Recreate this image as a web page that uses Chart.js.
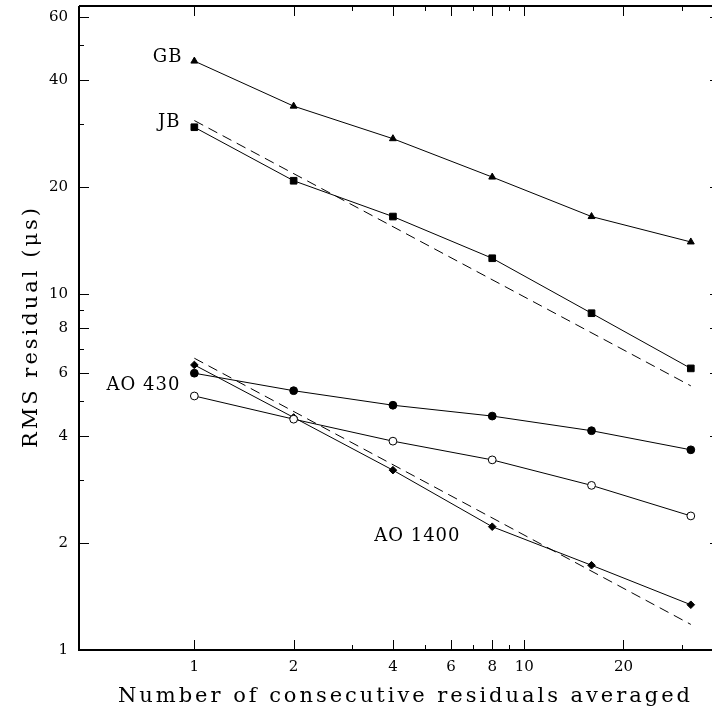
<!DOCTYPE html>
<html>
<head>
<meta charset="utf-8">
<script src="https://cdn.jsdelivr.net/npm/chart.js@4.4.0/dist/chart.umd.min.js"></script>
<style>
  html, body { margin: 0; padding: 0; background: #fff; }
</style>
</head>
<body>
<canvas id="rms" width="712" height="711" style="width:712px;height:711px"></canvas>
<script>
const N_AVG = [1, 2, 4, 8, 16, 32]
const GB = [45.1, 33.7, 27.3, 21.3, 16.5, 14.0]
const JB = [29.4, 20.8, 16.5, 12.6, 8.83, 6.18]
const AO430_FILLED = [5.99, 5.35, 4.87, 4.54, 4.13, 3.65]
const AO430_OPEN = [5.17, 4.45, 3.86, 3.42, 2.90, 2.38]
const AO1400 = [6.32, 4.50, 3.20, 2.22, 1.73, 1.34]

// dashed 1/sqrt(N) guide lines
const FIT_X = [1, 32]
const JB_FIT = [30.7, 5.52]
const AO1400_FIT = [6.6, 1.18]

const X_TICKS = [1, 2, 4, 6, 8, 10, 20]
const X_MINOR = [3, 5, 7, 9, 30]
const Y_TICKS = [1, 2, 4, 6, 8, 10, 20, 40, 60]
const Y_MINOR = [3, 5, 7, 9, 30, 50]

const SERIES_LABELS = ['GB', 'JB', 'AO 430', 'AO 1400']
const LABEL_AT = [[0.92, 46.3], [0.907, 30.4], [0.907, 5.55], [3.51, 2.08]]

const X_MIN = 0.447, X_MAX = 37.1
const Y_MIN = 1, Y_MAX = 64.4

const FONT = "'DejaVu Serif', 'Liberation Serif', serif"

// ------------------------------------------------------------
const pts = (xs, ys) => xs.map((x, i) => ({ x: x, y: ys[i] }))

const markSeries = (data, style, radius, fill) => ({
  data: data,
  showLine: true,
  borderColor: '#000',
  borderWidth: 1,
  pointStyle: style,
  pointRadius: radius,
  pointBackgroundColor: fill,
  pointBorderColor: '#000',
  pointBorderWidth: 1
})

const dashSeries = (data) => ({
  data: data,
  showLine: true,
  borderColor: '#000',
  borderWidth: 1,
  borderDash: [10, 6],
  pointRadius: 0
})

const spacedText = (ctx, text, cx, cy, width) => {
  ctx.letterSpacing = '0px'
  const w0 = ctx.measureText(text).width
  const sp = (width - w0) / (text.length - 1)
  ctx.letterSpacing = sp + 'px'
  ctx.textAlign = 'left'
  ctx.fillText(text, cx - width / 2, cy)
  ctx.letterSpacing = '0px'
}

const framePlugin = {
  id: 'frame',
  afterDraw(chart) {
    const ctx = chart.ctx
    const a = chart.chartArea
    const xs = chart.scales.x
    const ys = chart.scales.y
    const rightEdge = a.right + 8
    ctx.save()
    ctx.strokeStyle = '#000'
    ctx.lineWidth = 2
    ctx.beginPath()
    ctx.moveTo(a.left, a.top); ctx.lineTo(rightEdge, a.top)
    ctx.moveTo(a.left, a.top); ctx.lineTo(a.left, a.bottom)
    ctx.moveTo(a.left - 1, a.bottom); ctx.lineTo(rightEdge, a.bottom)
    ctx.stroke()

    ctx.lineWidth = 1
    ctx.beginPath()
    const xTick = (v, len) => {
      const p = Math.round(xs.getPixelForValue(v)) + 0.5
      ctx.moveTo(p, a.bottom); ctx.lineTo(p, a.bottom - len)
      ctx.moveTo(p, a.top); ctx.lineTo(p, a.top + len)
    }
    const yTick = (v, len) => {
      const p = Math.round(ys.getPixelForValue(v)) + 0.5
      ctx.moveTo(a.left, p); ctx.lineTo(a.left + len, p)
      ctx.moveTo(rightEdge, p); ctx.lineTo(rightEdge - len, p)
    }
    X_TICKS.forEach(v => xTick(v, 10))
    X_MINOR.forEach(v => xTick(v, 5))
    Y_TICKS.forEach(v => yTick(v, 10))
    Y_MINOR.forEach(v => yTick(v, 5))
    ctx.stroke()

    // series names
    ctx.fillStyle = '#000'
    ctx.font = '18px ' + FONT
    ctx.textBaseline = 'middle'
    SERIES_LABELS.forEach((txt, i) => {
      const px = xs.getPixelForValue(LABEL_AT[i][0])
      const py = ys.getPixelForValue(LABEL_AT[i][1])
      ctx.textAlign = i === 3 ? 'left' : 'right'
      ctx.letterSpacing = '1px'
      ctx.fillText(txt, px, py)
    })
    ctx.letterSpacing = '0px'

    // axis titles
    ctx.font = '21px ' + FONT
    ctx.textBaseline = 'alphabetic'
    spacedText(ctx, 'Number of consecutive residuals averaged', 404, 702, 572)
    ctx.save()
    ctx.translate(37, (a.top + a.bottom) / 2)
    ctx.rotate(-Math.PI / 2)
    ctx.textBaseline = 'alphabetic'
    spacedText(ctx, 'RMS residual (\u03bcs)', 0, 0, 240)
    ctx.restore()
    ctx.restore()
  }
}

const tickFont = { family: FONT, size: 15 }

new Chart(document.getElementById('rms'), {
  type: 'scatter',
  data: {
    datasets: [
      dashSeries(pts(FIT_X, JB_FIT)),
      dashSeries(pts(FIT_X, AO1400_FIT)),
      markSeries(pts(N_AVG, GB), 'triangle', 4, '#000'),
      markSeries(pts(N_AVG, JB), 'rect', 4.7, '#000'),
      markSeries(pts(N_AVG, AO430_FILLED), 'circle', 3.9, '#000'),
      markSeries(pts(N_AVG, AO430_OPEN), 'circle', 3.9, '#fff'),
      markSeries(pts(N_AVG, AO1400), 'rectRot', 3.8, '#000')
    ]
  },
  options: {
    responsive: false,
    animation: false,
    layout: { autoPadding: false, padding: { top: 6, right: 0, left: 0, bottom: 0 } },
    plugins: { legend: { display: false }, tooltip: { enabled: false } },
    scales: {
      x: {
        type: 'logarithmic',
        min: X_MIN,
        max: X_MAX,
        grid: { display: false, drawTicks: false },
        border: { display: false },
        afterBuildTicks: s => { s.ticks = X_TICKS.map(v => ({ value: v })) },
        afterFit: s => { s.height = 61; s.paddingLeft = 0; s.paddingRight = 0 },
        ticks: {
          autoSkip: false, maxRotation: 0, padding: 8, color: '#000', font: tickFont,
          callback: v => String(v)
        }
      },
      y: {
        type: 'logarithmic',
        min: Y_MIN,
        max: Y_MAX,
        grid: { display: false, drawTicks: false },
        border: { display: false },
        afterBuildTicks: s => { s.ticks = Y_TICKS.map(v => ({ value: v })) },
        afterFit: s => { s.width = 79; s.paddingTop = 0; s.paddingBottom = 0 },
        ticks: {
          autoSkip: false, padding: 11, color: '#000', font: tickFont,
          callback: v => String(v)
        }
      }
    }
  },
  plugins: [framePlugin]
})
</script>
</body>
</html>
